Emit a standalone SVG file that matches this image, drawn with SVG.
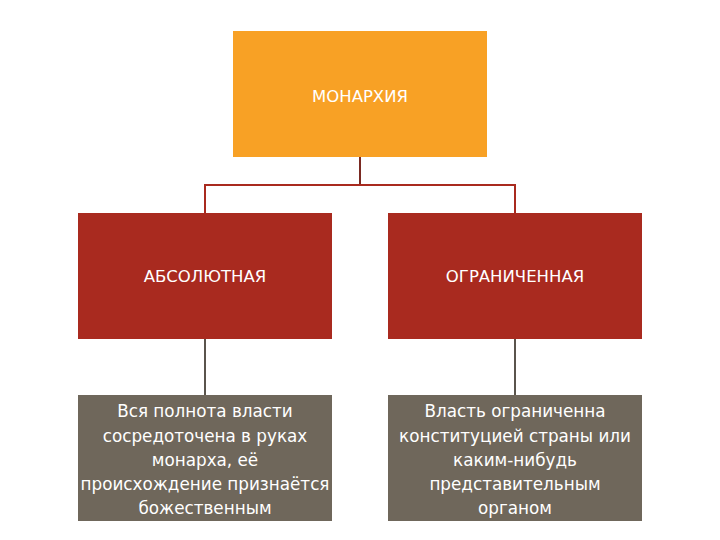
<svg xmlns="http://www.w3.org/2000/svg" width="720" height="540" viewBox="0 0 720 540">
<style>
.t{font-family:"DejaVu Sans",sans-serif;fill:#fff;text-anchor:middle}
.h{font-size:16.5px}
.b{font-size:16.8px}
.c{fill:none;stroke-width:2}
</style>
<rect width="720" height="540" fill="#fff"/>
<g id="connectors">
<path class="c" stroke="#7a2a22" d="M360 157V185"/>
<path class="c" stroke="#a92a1f" d="M205 213V185H515V213"/>
<path class="c" stroke="#5a544c" d="M205 339V395"/>
<path class="c" stroke="#5a544c" d="M515 339V395"/>
</g>
<g id="monarchy">
<rect x="233" y="31" width="254" height="126" fill="#f8a125"/>
<text class="t h" x="360" y="102">МОНАРХИЯ</text>
</g>
<g id="absolute">
<rect x="78" y="213" width="254" height="126" fill="#a92a1f"/>
<text class="t h" x="205" y="282">АБСОЛЮТНАЯ</text>
</g>
<g id="limited">
<rect x="388" y="213" width="254" height="126" fill="#a92a1f"/>
<text class="t h" x="515" y="282">ОГРАНИЧЕННАЯ</text>
</g>
<g id="absolute-desc">
<rect x="78" y="395" width="254" height="126" fill="#6f675b"/>
<text class="t b" x="205" y="417">Вся полнота власти</text>
<text class="t b" x="205" y="442">сосредоточена в руках</text>
<text class="t b" x="205" y="466">монарха, её</text>
<text class="t b" x="205" y="490">происхождение признаётся</text>
<text class="t b" x="205" y="514">божественным</text>
</g>
<g id="limited-desc">
<rect x="388" y="395" width="254" height="126" fill="#6f675b"/>
<text class="t b" x="515" y="417">Власть ограниченна</text>
<text class="t b" x="515" y="442">конституцией страны или</text>
<text class="t b" x="515" y="466">каким-нибудь</text>
<text class="t b" x="515" y="490">представительным</text>
<text class="t b" x="515" y="514">органом</text>
</g>
</svg>
